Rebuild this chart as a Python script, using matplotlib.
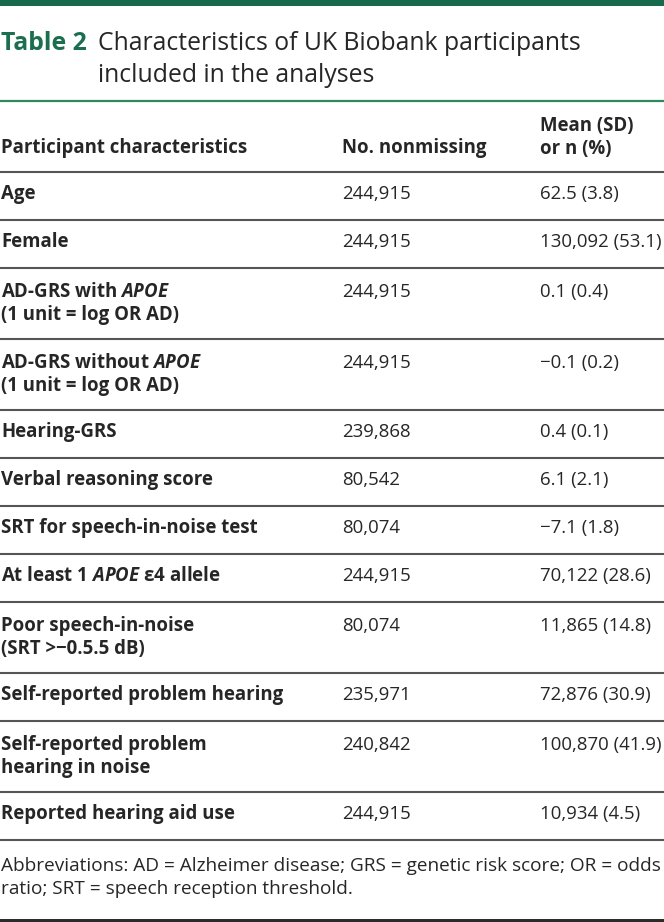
import matplotlib
matplotlib.use("Agg")
import matplotlib.pyplot as plt

plt.rcParams['font.family'] = ['Open Sans', 'DejaVu Sans']
plt.rcParams['mathtext.fontset'] = 'custom'
plt.rcParams['mathtext.it'] = 'Open Sans:italic:bold'
plt.rcParams['mathtext.rm'] = 'Open Sans:bold'
plt.rcParams['mathtext.bf'] = 'Open Sans:bold'

# ---- data ----
title_label = "Table 2"
title_lines = ["Characteristics of UK Biobank participants", "included in the analyses"]
headers = ["Participant characteristics", "No. nonmissing", "Mean (SD)\nor n (%)"]
characteristics = [
    ["Age"],
    ["Female"],
    ["AD-GRS with $APOE$", "(1 unit = log OR AD)"],
    ["AD-GRS without $APOE$", "(1 unit = log OR AD)"],
    ["Hearing-GRS"],
    ["Verbal reasoning score"],
    ["SRT for speech-in-noise test"],
    ["At least 1 $APOE$ ε4 allele"],
    ["Poor speech-in-noise", "(SRT >−0.5.5 dB)"],
    ["Self-reported problem hearing"],
    ["Self-reported problem", "hearing in noise"],
    ["Reported hearing aid use"],
]
nonmissing = ["244,915", "244,915", "244,915", "244,915", "239,868", "80,542",
              "80,074", "244,915", "80,074", "235,971", "240,842", "244,915"]
summary = ["62.5 (3.8)", "130,092 (53.1)", "0.1 (0.4)", "−0.1 (0.2)", "0.4 (0.1)",
           "6.1 (2.1)", "−7.1 (1.8)", "70,122 (28.6)", "11,865 (14.8)",
           "72,876 (30.9)", "100,870 (41.9)", "10,934 (4.5)"]
footnote = ["Abbreviations: AD = Alzheimer disease; GRS = genetic risk score; OR = odds",
            "ratio; SRT = speech reception threshold."]

# ---- layout ----
W, H = 664, 922
GREEN = "#1b6e50"
TXT = "#262626"
RULE = "#555555"

fig = plt.figure(figsize=(W / 100, H / 100), dpi=100)
ax = fig.add_axes([0, 0, 1, 1])
ax.set_xlim(0, W)
ax.set_ylim(H, 0)
ax.axis("off")

# top bar
ax.fill_between([0, W], 0, 6.5, color="#17694b", lw=0)

# title
TFS = 17.8
ax.text(1, 50, title_label, fontsize=TFS, fontweight="bold", color=GREEN, va="baseline")
ax.text(98, 50, title_lines[0], fontsize=TFS, color=TXT, va="baseline")
ax.text(98, 82, title_lines[1], fontsize=TFS, color=TXT, va="baseline")
ax.plot([0, W], [101, 101], color="#2e8a5e", lw=1.6, solid_capstyle="butt")

FS = 13.4
col_x = [1, 342, 540]

# header
ax.text(col_x[0], 153, headers[0], fontsize=FS, fontweight="bold", color=TXT, va="baseline")
ax.text(col_x[1], 153, headers[1], fontsize=FS, fontweight="bold", color=TXT, va="baseline")
h3 = headers[2].split("\n")
ax.text(col_x[2], 131, h3[0], fontsize=FS, fontweight="bold", color=TXT, va="baseline")
ax.text(col_x[2], 154, h3[1], fontsize=FS, fontweight="bold", color=TXT, va="baseline")

y = 172
ax.plot([0, W], [y, y], color=RULE, lw=1.5, solid_capstyle="butt")
for label_lines, nm, sm in zip(characteristics, nonmissing, summary):
    nlines = len(label_lines)
    h = 48 if nlines == 1 else 71
    base = y + 27 if nlines == 1 else y + 29
    for i, ln in enumerate(label_lines):
        ax.text(col_x[0], base + 23 * i, ln, fontsize=FS, fontweight="bold",
                color=TXT, va="baseline")
    ax.text(col_x[1], base, nm, fontsize=FS, color=TXT, va="baseline")
    ax.text(col_x[2], base, sm, fontsize=FS, color=TXT, va="baseline")
    y += h
    ax.plot([0, W], [y, y], color=RULE, lw=1.5, solid_capstyle="butt")

# footnote
FFS = 13.7
ax.text(1, 871, footnote[0], fontsize=FFS, color=TXT, va="baseline")
ax.text(1, 894, footnote[1], fontsize=FFS, color=TXT, va="baseline")
ax.fill_between([0, W], 918.5, 922, color="#2b2b2b", lw=0)

fig.savefig("out.png", dpi=100)
